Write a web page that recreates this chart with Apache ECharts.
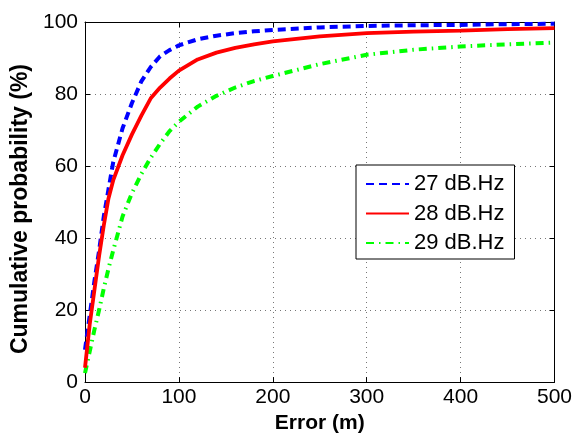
<!DOCTYPE html>
<html>
<head>
<meta charset="utf-8">
<script src="https://cdn.jsdelivr.net/npm/echarts@6/dist/echarts.min.js"></script>
<style>
html,body{margin:0;padding:0;background:#fff;}
#chart{width:575px;height:439px;}
</style>
</head>
<body>
<div id="chart"></div>
<script>
// Error (m) sample points
var errorX = [0, 5, 10, 15, 20, 25, 30, 40, 50, 60, 70, 80, 90, 100, 120, 140, 160, 180, 200, 250, 300, 350, 400, 450, 500];
// Cumulative probability (%)
var cdf27 = [9, 18.5, 28, 36.5, 46, 53.5, 61, 70.5, 77.5, 83.5, 87.5, 90.5, 92.2, 93.5, 95.2, 96.2, 96.9, 97.4, 97.8, 98.5, 98.9, 99.1, 99.2, 99.4, 99.5];
var cdf28 = [4, 16, 25.5, 35, 43.5, 51, 56, 63, 68.8, 74, 78.8, 81.8, 84.3, 86.5, 89.6, 91.5, 92.8, 93.8, 94.6, 96.0, 96.9, 97.3, 97.6, 98.0, 98.3];
var cdf29 = [2.5, 8.5, 14.5, 20, 26, 31.5, 36.5, 46, 52.5, 57.8, 62.3, 66.2, 69.7, 72.3, 76.5, 79.5, 81.8, 83.6, 85, 88.3, 90.9, 92.3, 93.2, 93.8, 94.3];
var seriesNames = ['27 dB.Hz', '28 dB.Hz', '29 dB.Hz'];
var xTicks = [0, 100, 200, 300, 400, 500];
var yTicks = [0, 20, 40, 60, 80, 100];

function pairs(ys) { return errorX.map(function (x, i) { return [x, ys[i]]; }); }

var FONT = '"Liberation Sans", Arial, Helvetica, sans-serif';
var chart = echarts.init(document.getElementById('chart'), null, {renderer: 'canvas'});

var gridLine = {show: true, lineStyle: {color: '#777', width: 1, type: [1, 4]}};
var option = {
  backgroundColor: '#fff',
  animation: false,
  grid: {left: 85, right: 19, top: 22, bottom: 53, show: false},
  legend: {
    orient: 'vertical',
    left: 356, top: 165,
    data: seriesNames,
    itemWidth: 43, itemHeight: 10, itemGap: 7.5,
    padding: [8, 10, 5, 9],
    borderColor: '#000', borderWidth: 1, backgroundColor: '#fff',
    itemStyle: {opacity: 0},
    textStyle: {fontFamily: FONT, fontSize: 22, color: '#000', lineHeight: 22}
  },
  xAxis: [{
    type: 'value', min: xTicks[0], max: xTicks[xTicks.length - 1], interval: 100,
    name: 'Error (m)', nameLocation: 'middle', nameGap: 28,
    nameTextStyle: {fontFamily: FONT, fontSize: 21, fontWeight: 'bold', color: '#000'},
    axisLine: {show: true, onZero: false, lineStyle: {color: '#000', width: 1}},
    axisTick: {show: true, inside: true, length: 5, lineStyle: {color: '#000'}},
    axisLabel: {fontFamily: FONT, fontSize: 21, color: '#000', margin: 5},
    splitLine: gridLine
  }, {
    type: 'value', position: 'top', min: 0, max: 500, interval: 100,
    axisLine: {show: true, onZero: false, lineStyle: {color: '#000', width: 1}},
    axisTick: {show: true, inside: true, length: 5, lineStyle: {color: '#000'}},
    axisLabel: {show: false}, splitLine: {show: false}
  }],
  yAxis: [{
    type: 'value', min: yTicks[0], max: yTicks[yTicks.length - 1], interval: 20,
    name: 'Cumulative probability (%)', nameLocation: 'middle', nameGap: 50,
    nameTextStyle: {fontFamily: FONT, fontSize: 23, fontWeight: 'bold', color: '#000', padding: [0, 14, 0, 0]},
    axisLine: {show: true, onZero: false, lineStyle: {color: '#000', width: 1}},
    axisTick: {show: true, inside: true, length: 5, lineStyle: {color: '#000'}},
    axisLabel: {fontFamily: FONT, fontSize: 21, color: '#000', margin: 7},
    splitLine: gridLine
  }, {
    type: 'value', position: 'right', min: 0, max: 100, interval: 20,
    axisLine: {show: true, onZero: false, lineStyle: {color: '#000', width: 1}},
    axisTick: {show: true, inside: true, length: 5, lineStyle: {color: '#000'}},
    axisLabel: {show: false}, splitLine: {show: false}
  }],
  series: [{
    name: seriesNames[0], type: 'line', data: pairs(cdf27), symbol: 'none', z: 3,
    itemStyle: {color: '#0000ff'},
    lineStyle: {color: '#0000ff', width: 4, type: [8, 5]}
  }, {
    name: seriesNames[1], type: 'line', data: pairs(cdf28), symbol: 'none', z: 4,
    itemStyle: {color: '#ff0000'},
    lineStyle: {color: '#ff0000', width: 3.8, type: 'solid'}
  }, {
    name: seriesNames[2], type: 'line', data: pairs(cdf29), symbol: 'none', z: 2,
    itemStyle: {color: '#00ff00'},
    lineStyle: {color: '#00ff00', width: 4, type: [8, 5, 1.5, 5]}
  }]
};
chart.setOption(option);
</script>
</body>
</html>
